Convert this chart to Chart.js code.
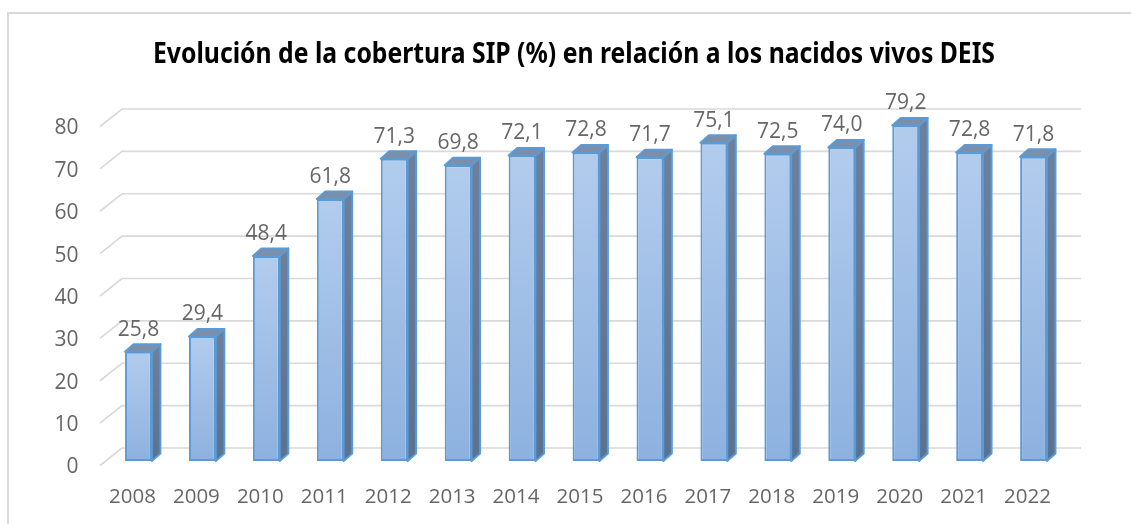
<!DOCTYPE html>
<html>
<head>
<meta charset="utf-8">
<script src="https://cdn.jsdelivr.net/npm/chart.js@4/dist/chart.umd.min.js"></script>
<style>
  html, body { margin: 0; padding: 0; background: #ffffff; }
  #wrap { width: 1131px; height: 524px; position: relative; }
</style>
</head>
<body>
<div id="wrap"><canvas id="c" width="1131" height="524"></canvas></div>
<script>
const titleText = 'Evolución de la cobertura SIP (%) en relación a los nacidos vivos DEIS';
const years = ['2008','2009','2010','2011','2012','2013','2014','2015','2016','2017','2018','2019','2020','2021','2022'];
const coverage = [25.8, 29.4, 48.4, 61.8, 71.3, 69.8, 72.1, 72.8, 71.7, 75.1, 72.5, 74.0, 79.2, 72.8, 71.8];
const yTickValues = [0, 10, 20, 30, 40, 50, 60, 70, 80];

const DEPTH_X = 8.5, DEPTH_Y = 7.5;
const WALL_X = 15.5, WALL_Y = 13;      // back wall offset from bar plane
const FLOOR_X = 6.5, FLOOR_Y = 4.5;    // front edge offset (toward viewer)
const gridColor = '#d9d9d9';
const edgeColor = '#5b9bd5';
const textGray = '#666666';

const framePlugin = {
  id: 'frame',
  beforeDraw(chart) {
    const ctx = chart.ctx;
    ctx.save();
    ctx.fillStyle = '#ffffff';
    ctx.fillRect(0, 0, chart.width, chart.height);
    ctx.strokeStyle = '#d9d9d9';
    ctx.lineWidth = 2;
    ctx.strokeRect(8, 13, chart.width + 20, chart.height + 20);
    // title, condensed to the reference width
    ctx.font = 'bold 29px "Noto Sans", "Open Sans", sans-serif';
    const w = ctx.measureText(titleText).width;
    const targetW = 842;
    const sx = targetW / w;
    ctx.translate(574, 63);
    ctx.scale(sx, 1);
    ctx.fillStyle = '#000000';
    ctx.textAlign = 'center';
    ctx.textBaseline = 'alphabetic';
    ctx.fillText(titleText, 0, 0);
    ctx.restore();
  }
};

const wallPlugin = {
  id: 'wall3d',
  beforeDatasetsDraw(chart) {
    const ctx = chart.ctx;
    const ys = chart.scales.y;
    const area = chart.chartArea;
    ctx.save();
    ctx.strokeStyle = gridColor;
    ctx.lineWidth = 1.6;
    ys.ticks.forEach(t => {
      const py = ys.getPixelForValue(t.value);
      ctx.beginPath();
      ctx.moveTo(area.left - FLOOR_X, py + FLOOR_Y);
      ctx.lineTo(area.left + WALL_X, py - WALL_Y);
      ctx.lineTo(area.right + WALL_X, py - WALL_Y);
      ctx.stroke();
    });
    ctx.restore();
  }
};

const bar3dPlugin = {
  id: 'bar3d',
  afterDatasetsDraw(chart) {
    const ctx = chart.ctx;
    const meta = chart.getDatasetMeta(0);
    ctx.save();
    ctx.lineJoin = 'round';
    meta.data.forEach((el, i) => {
      const p = el.getProps(['x', 'y', 'base', 'width'], true);
      const L = p.x - p.width / 2, R = p.x + p.width / 2, T = p.y, B = p.base;
      // side face
      const gs = ctx.createLinearGradient(0, T, 0, B);
      gs.addColorStop(0, '#6b809c');
      gs.addColorStop(1, '#5a7190');
      ctx.beginPath();
      ctx.moveTo(R, T);
      ctx.lineTo(R + DEPTH_X, T - DEPTH_Y);
      ctx.lineTo(R + DEPTH_X, B - DEPTH_Y);
      ctx.lineTo(R, B);
      ctx.closePath();
      ctx.fillStyle = gs;
      ctx.fill();
      ctx.strokeStyle = edgeColor;
      ctx.lineWidth = 2;
      ctx.stroke();
      // top face
      ctx.beginPath();
      ctx.moveTo(L, T);
      ctx.lineTo(L + DEPTH_X, T - DEPTH_Y);
      ctx.lineTo(R + DEPTH_X, T - DEPTH_Y);
      ctx.lineTo(R, T);
      ctx.closePath();
      ctx.fillStyle = '#7d8fa8';
      ctx.fill();
      ctx.stroke();
      // value label
      const v = chart.data.datasets[0].data[i];
      ctx.fillStyle = textGray;
      ctx.font = '21px "Open Sans"';
      ctx.textAlign = 'center';
      ctx.textBaseline = 'middle';
      ctx.fillText(v.toFixed(1).replace('.', ','), p.x, T - 22);
    });
    ctx.restore();
  }
};

function barGradient(context) {
  const chart = context.chart;
  const ys = chart.scales.y;
  if (!chart.chartArea || !ys) return '#9dbde6';
  const top = ys.getPixelForValue(context.raw);
  const bottom = ys.getPixelForValue(0);
  const g = chart.ctx.createLinearGradient(0, top, 0, bottom);
  g.addColorStop(0, '#b2cced');
  g.addColorStop(1, '#8db1df');
  return g;
}

new Chart(document.getElementById('c'), {
  type: 'bar',
  data: {
    labels: years,
    datasets: [{
      data: coverage,
      backgroundColor: barGradient,
      borderColor: edgeColor,
      borderWidth: 2,
      borderSkipped: false,
      barPercentage: 0.42,
      categoryPercentage: 1.0
    }]
  },
  options: {
    responsive: false,
    animation: false,
    devicePixelRatio: 1,
    layout: { padding: { left: 17, right: 0, top: 122, bottom: 0 } },
    plugins: {
      legend: { display: false },
      tooltip: { enabled: false },
      title: { display: false, text: titleText }
    },
    scales: {
      x: {
        grid: { display: false, drawTicks: false },
        border: { display: false },
        ticks: {
          color: textGray,
          font: { family: '"Open Sans"', size: 20.5, lineHeight: 1.2 },
          padding: 24,
          labelOffset: -6,
          maxRotation: 0,
          autoSkip: false
        },
        afterFit(scale) { scale.height = 63; }
      },
      y: {
        min: 0,
        max: 80,
        grid: { display: false, drawTicks: false },
        border: { display: false },
        afterBuildTicks(scale) { scale.ticks = yTickValues.map(v => ({ value: v })); },
        ticks: {
          color: textGray,
          font: { family: '"Open Sans"', size: 21 },
          padding: 28,
          labelOffset: 6.5
        },
        afterFit(scale) { scale.width = 89.5; }
      },
      y2: {
        position: 'right',
        display: true,
        grid: { display: false, drawTicks: false },
        border: { display: false },
        ticks: { display: false },
        afterFit(scale) { scale.width = 65.5; }
      }
    }
  },
  plugins: [framePlugin, wallPlugin, bar3dPlugin]
});
</script>
</body>
</html>
